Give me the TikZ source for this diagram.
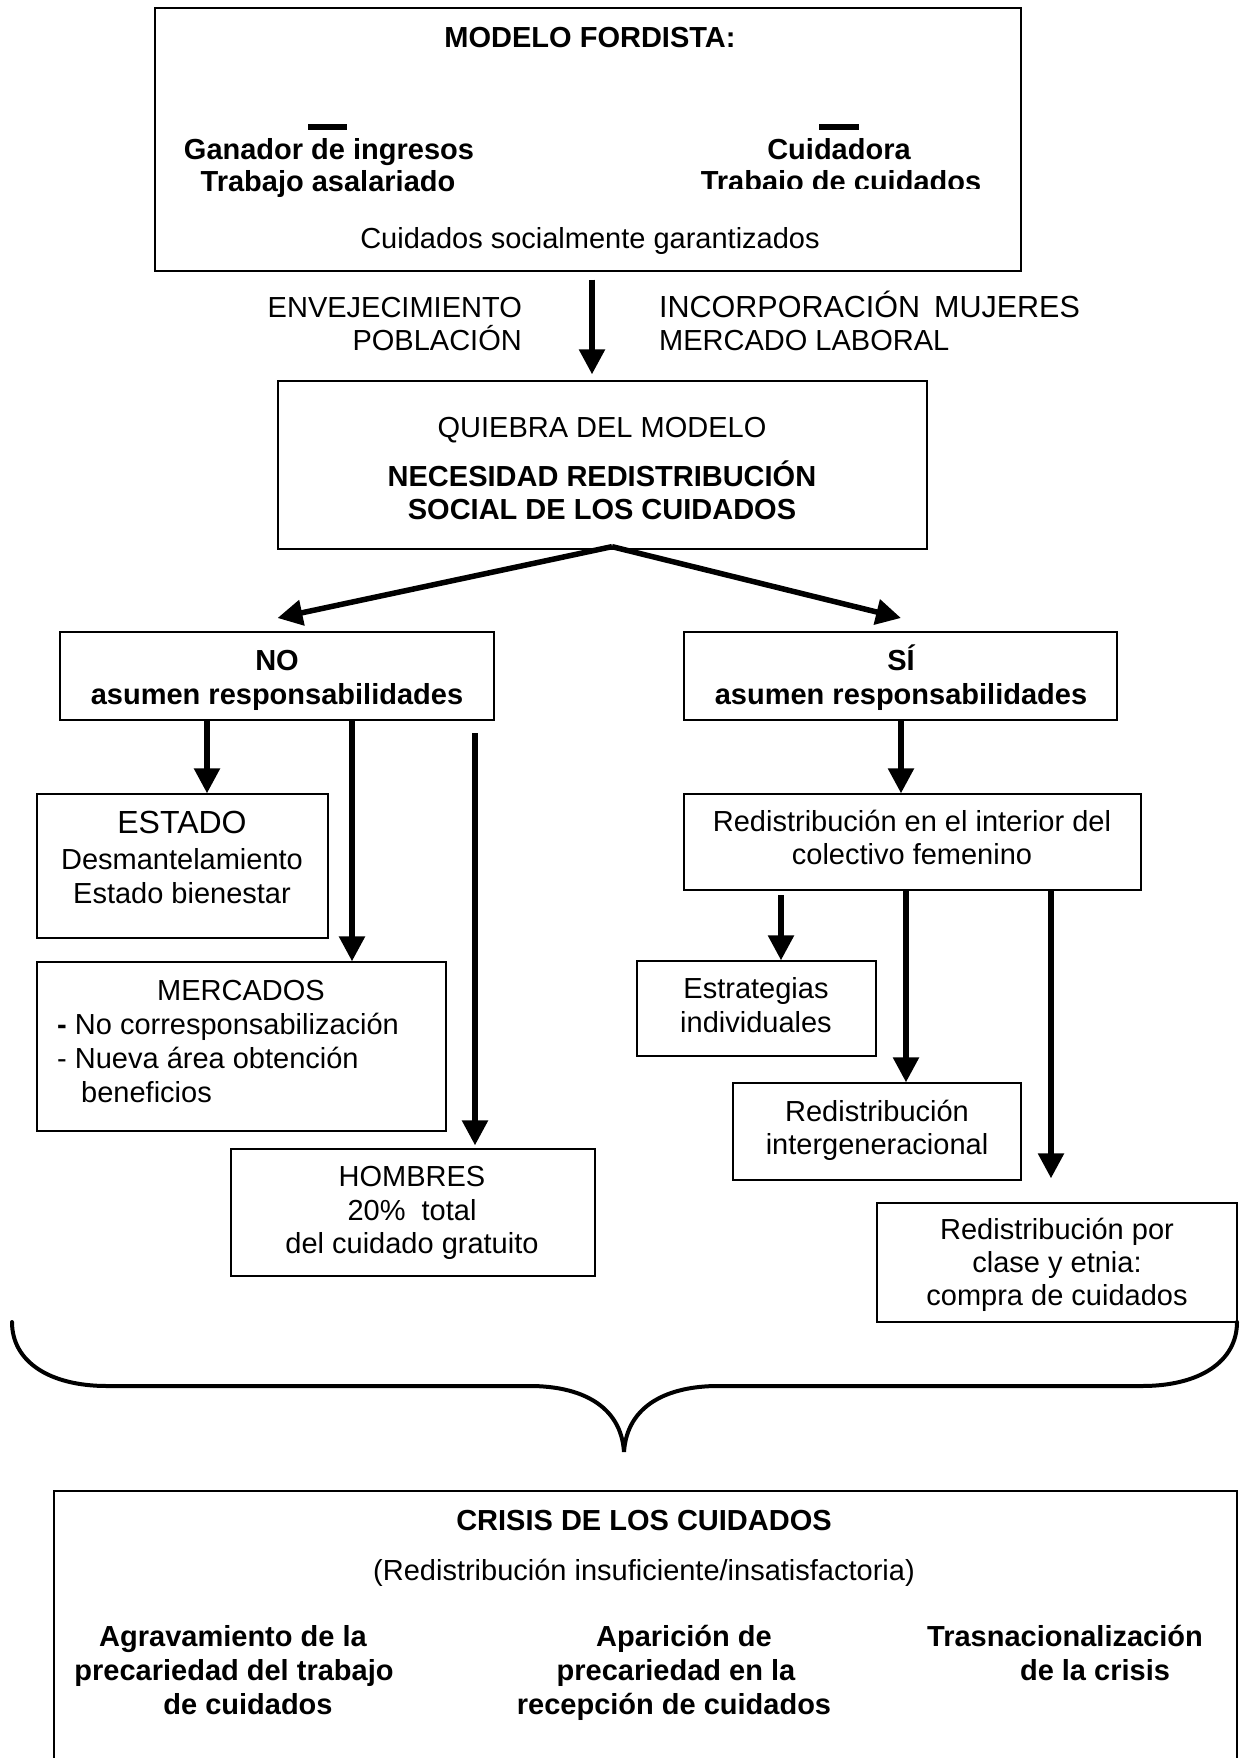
\documentclass[tikz,border=0pt]{standalone}
\usepackage{fontspec}
\setmainfont{Liberation Sans}
\usetikzlibrary{arrows.meta}
\begin{document}
\begin{tikzpicture}[x=1pt,y=-1pt,
  box/.style={draw=black, line width=1.3pt, inner sep=0pt, rectangle},
  boxline/.style={draw=black, line width=1.3pt},
  arr/.style={line width=5.5pt, -{Triangle[width=25pt,length=25pt]}},
  txt/.style={inner sep=0pt, anchor=base, font=\fontsize{29pt}{34pt}\selectfont},
  btxt/.style={txt, font=\fontsize{29pt}{34pt}\selectfont\bfseries},
  ltxt/.style={txt, anchor=base west},
  rtxt/.style={txt, anchor=base east},
  brace/.style={line width=4pt, line cap=round},
]
\useasboundingbox (0,0) rectangle (1239,1758);

% ---------- boxes ----------
\node[box, minimum width=866pt, minimum height=263pt] (top) at (588,139.5) {};
\node[box, minimum width=649pt, minimum height=168pt] (quiebra) at (602.5,465) {};
\node[box, minimum width=434pt, minimum height=88pt] (no) at (277,676) {};
\node[box, minimum width=433pt, minimum height=88pt] (si) at (900.5,676) {};
\node[box, minimum width=291pt, minimum height=144pt] (estado) at (182.5,866) {};
\node[box, minimum width=409pt, minimum height=169pt] (mercados) at (241.5,1046.5) {};
\node[box, minimum width=364pt, minimum height=127pt] (hombres) at (413,1212.5) {};
\node[box, minimum width=457pt, minimum height=96pt] (redis) at (912.5,842) {};
\node[box, minimum width=239pt, minimum height=95pt] (estrat) at (756.5,1008.5) {};
\node[box, minimum width=288pt, minimum height=97pt] (inter) at (877,1131.5) {};
\node[box, minimum width=360pt, minimum height=119pt] (clase) at (1057,1262.5) {};
\draw[boxline] (54,1760) -- (54,1491) -- (1237,1491) -- (1237,1760);

% ---------- top box texts ----------
\node[btxt] (tTitle) at (590,48) {MODELO FORDISTA:};
\fill (308,124) rectangle (347,130);
\fill (819,124) rectangle (859,130);
\node[btxt] (tGan) at (329,160) {Ganador de ingresos};
\node[btxt] (tTrA) at (328,191) {Trabajo asalariado};
\node[btxt] (tCui) at (839,160) {Cuidadora};
\begin{scope}
  \clip (650,140) rectangle (1010,188);
  \node[btxt] (tTrC) at (841,191) {Trabajo de cuidados};
\end{scope}
\node[txt] (tGar) at (590,248) {Cuidados socialmente garantizados};

% ---------- factors ----------
\node[rtxt] (tEnv1) at (522,317) {ENVEJECIMIENTO};
\node[rtxt] (tEnv2) at (522,350) {POBLACIÓN};
\node[ltxt, font=\fontsize{30.5pt}{34pt}\selectfont] (tInc1) at (659,317) {INCORPORACIÓN\hspace{14pt}MUJERES};
\node[ltxt] (tInc2) at (659,350) {MERCADO LABORAL};

% ---------- quiebra ----------
\node[txt] (tQ1) at (602,437) {QUIEBRA DEL MODELO};
\node[btxt] (tQ2) at (602,486) {NECESIDAD REDISTRIBUCIÓN};
\node[btxt] (tQ3) at (602,519) {SOCIAL DE LOS CUIDADOS};

% ---------- NO / SI ----------
\node[btxt] (tNo1) at (277,670) {NO};
\node[btxt] (tNo2) at (277,704) {asumen responsabilidades};
\node[btxt] (tSi1) at (901,670) {SÍ};
\node[btxt] (tSi2) at (901,704) {asumen responsabilidades};

% ---------- NO branch ----------
\node[txt, font=\fontsize{32pt}{36pt}\selectfont] (tE1) at (182,833) {ESTADO};
\node[txt] (tE2) at (182,869) {Desmantelamiento};
\node[txt] (tE3) at (182,903) {Estado bienestar};

\node[txt] (tM1) at (241,1000) {MERCADOS};
\node[ltxt] (tM2) at (57,1034) {\textbf{-} No corresponsabilización};
\node[ltxt] (tM3) at (57,1068) {- Nueva área obtención};
\node[ltxt] (tM4) at (81,1102) {beneficios};

\node[txt] (tH1) at (412,1186) {HOMBRES};
\node[txt] (tH2) at (412,1220) {20\%\ \ total};
\node[txt] (tH3) at (412,1253) {del cuidado gratuito};

% ---------- SI branch ----------
\node[txt] (tR1) at (912,831) {Redistribución en el interior del};
\node[txt] (tR2) at (912,864) {colectivo femenino};
\node[txt] (tS1) at (756,998) {Estrategias};
\node[txt] (tS2) at (756,1032) {individuales};
\node[txt] (tI1) at (877,1121) {Redistribución};
\node[txt] (tI2) at (877,1154) {intergeneracional};
\node[txt] (tC1) at (1057,1239) {Redistribución por};
\node[txt] (tC2) at (1057,1272) {clase y etnia:};
\node[txt] (tC3) at (1057,1305) {compra de cuidados};

% ---------- bottom ----------
\node[btxt] (tK1) at (644,1530) {CRISIS DE LOS CUIDADOS};
\node[txt] (tK2) at (644,1580) {(Redistribución insuficiente/insatisfactoria)};
\node[btxt] (tA1) at (233,1646) {Agravamiento de la};
\node[btxt] (tA2) at (234,1680) {precariedad del trabajo};
\node[btxt] (tA3) at (248,1714) {de cuidados};
\node[btxt] (tB1) at (684,1646) {Aparición de};
\node[btxt] (tB2) at (676,1680) {precariedad en la};
\node[btxt] (tB3) at (674,1714) {recepción de cuidados};
\node[btxt] (tT1) at (1065,1646) {Trasnacionalización};
\node[btxt] (tT2) at (1095,1680) {de la crisis};

% ---------- connectors ----------
\coordinate (xa) at (592,0);
\coordinate (xs) at (612,0);
\coordinate (tipL) at (277.5,618);
\coordinate (tipR) at (901,618);
\coordinate (x1) at (207,0);
\coordinate (x2) at (352,0);
\coordinate (x3) at (475,0);
\coordinate (x4) at (901,0);
\coordinate (x5) at (781,0);
\coordinate (x6) at (906,0);
\coordinate (x7) at (1051,0);
\coordinate (hstart) at (475,733);
\coordinate (estart) at (781,895);

\draw[arr, shorten <=8pt, shorten >=6pt] (xa |- top.south) -- (xa |- quiebra.north);
\draw[arr] ([yshift=3pt]xs |- quiebra.south) coordinate (split) -- (tipL);
\draw[arr] (split) -- (tipR);
\draw[arr] (x1 |- no.south) -- (x1 |- estado.north);
\draw[arr] (x2 |- no.south) -- (x2 |- mercados.north);
\draw[arr, shorten >=3pt] (hstart) -- (x3 |- hombres.north);
\draw[arr] (x4 |- si.south) -- (x4 |- redis.north);
\draw[arr] (estart) -- (x5 |- estrat.north);
\draw[arr] (x6 |- redis.south) -- (x6 |- inter.north);
\draw[arr, shorten >=24pt] (x7 |- redis.south) -- (x7 |- clase.north);

% ---------- brace ----------
\draw[brace] (12,1322) .. controls (12,1362) and (50,1386) .. (107,1386)
  -- (530,1386) .. controls (580,1386) and (621,1405) .. (624,1452)
  .. controls (627,1405) and (668,1386) .. (718,1386)
  -- (1142,1386) .. controls (1199,1386) and (1237,1362) .. (1237,1322);
\end{tikzpicture}
\end{document}
